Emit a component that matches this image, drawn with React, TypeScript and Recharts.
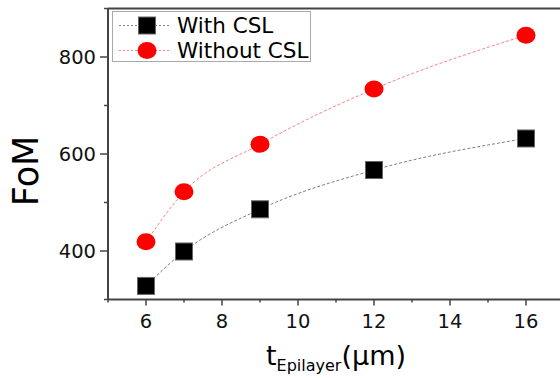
import { LineChart, Line, XAxis, YAxis, ReferenceLine, Legend } from 'recharts';

const thickness = [6, 7, 9, 12, 16];
const fomWithCSL = [328, 399, 486, 567, 632];
const fomWithoutCSL = [419, 522, 620, 734, 845];
const xTicks = [5, 6, 7, 8, 9, 10, 11, 12, 13, 14, 15, 16, 17];
const yTicks = [300, 400, 500, 600, 700, 800, 900];
const xLabelled = [6, 8, 10, 12, 14, 16];
const yLabelled = [400, 600, 800];

const FONT = '"DejaVu Sans", "Liberation Sans", Arial, sans-serif';
const AXIS = '#444';

const data = thickness.map((t, i) => ({
  t,
  withCSL: fomWithCSL[i],
  withoutCSL: fomWithoutCSL[i],
}));

const XTick = ({ x, y, payload }: any) => {
  const major = xLabelled.includes(payload.value);
  return (
    <g>
      <line x1={x} x2={x} y1={y} y2={y + (major ? 6 : 3)} stroke={AXIS} strokeWidth={1.5} />
      {major && (
        <text x={x} y={y + 28} textAnchor="middle" fontSize={19.5} fill="#111" fontFamily={FONT}>
          {payload.value}
        </text>
      )}
    </g>
  );
};

const YTick = ({ x, y, payload }: any) => {
  const major = yLabelled.includes(payload.value);
  return (
    <g>
      <line x1={x - (major ? 8 : 4)} x2={x} y1={y} y2={y} stroke={AXIS} strokeWidth={1.5} />
      {major && (
        <text x={x - 12} y={y + 7} textAnchor="end" fontSize={19.5} fill="#111" fontFamily={FONT}>
          {payload.value}
        </text>
      )}
    </g>
  );
};

const SquareDot = ({ cx, cy, index }: any) => (
  <rect key={`sq-${index}`} x={cx - 8.5} y={cy - 8.5} width={17} height={17} fill="#000" stroke="#666" strokeWidth={1} />
);

const CircleDot = ({ cx, cy, index }: any) => (
  <ellipse key={`ci-${index}`} cx={cx} cy={cy} rx={9.5} ry={8.5} fill="#ff0000" />
);

const LegendBox = () => (
  <div
    style={{
      width: 199,
      height: 51,
      boxSizing: 'border-box',
      border: '1px solid #aaa',
      background: '#fff',
      fontFamily: FONT,
      fontSize: 21.5,
      color: '#000',
      paddingTop: 1,
    }}
  >
    {[
      { name: 'With CSL', line: '#808080', square: true },
      { name: 'Without CSL', line: '#ff8080', square: false },
    ].map(item => (
      <div key={item.name} style={{ display: 'flex', alignItems: 'center', height: 25 }}>
        <svg width={64} height={25} style={{ display: 'block' }}>
          <line x1={6} x2={58} y1={12.5} y2={12.5} stroke={item.line} strokeWidth={1} strokeDasharray="2 2" />
          {item.square ? (
            <rect x={25.5} y={4} width={17} height={17} fill="#000" stroke="#666" />
          ) : (
            <ellipse cx={34} cy={12.5} rx={9.5} ry={8.5} fill="#ff0000" />
          )}
        </svg>
        <span style={{ lineHeight: '25px', whiteSpace: 'nowrap' }}>{item.name}</span>
      </div>
    ))}
  </div>
);

const XLabel = ({ viewBox }: any) => (
  <text
    x={viewBox.x + viewBox.width / 2}
    y={viewBox.y + 65.5}
    textAnchor="middle"
    fontSize={27}
    fill="#000"
    fontFamily={FONT}
  >
    <tspan>t</tspan>
    <tspan fontSize={16} dy={6}>Epilayer</tspan>
    <tspan dy={-6}>(μm)</tspan>
  </text>
);

const YLabel = ({ viewBox }: any) => {
  const x = viewBox.x + 38;
  const y = viewBox.y + viewBox.height / 2 + 17;
  return (
    <text x={x} y={y} transform={`rotate(-90 ${x} ${y})`} textAnchor="middle" fontSize={35} fill="#000" fontFamily={FONT}>
      FoM
    </text>
  );
};

export default function App() {
  return (
    <div style={{ position: 'fixed', left: 0, top: 0, width: 560, height: 378, overflow: 'hidden', background: '#fff' }}>
      <LineChart width={580} height={378} data={data} margin={{ top: 8.5, right: 16, bottom: 48.5, left: 0 }}>
        <XAxis
          dataKey="t"
          type="number"
          domain={[5, 17]}
          ticks={xTicks}
          interval={0}
          height={30}
          tickSize={0}
          tickMargin={0}
          tick={<XTick />}
          axisLine={{ stroke: AXIS, strokeWidth: 2 }}
          label={<XLabel />}
        />
        <YAxis
          type="number"
          domain={[300, 900]}
          ticks={yTicks}
          interval={0}
          width={108}
          tickSize={0}
          tickMargin={0}
          tick={<YTick />}
          axisLine={{ stroke: AXIS, strokeWidth: 2 }}
          label={<YLabel />}
        />
        <ReferenceLine y={900} stroke={AXIS} strokeWidth={2} />
        <Legend
          layout="vertical"
          align="center"
          verticalAlign="middle"
          content={<LegendBox />}
          wrapperStyle={{ left: 112, top: 11, width: 199 }}
        />
        <Line
          dataKey="withCSL"
          name="With CSL"
          type="monotone"
          stroke="#808080"
          strokeWidth={1}
          strokeDasharray="3 2"
          dot={<SquareDot />}
          isAnimationActive={false}
        />
        <Line
          dataKey="withoutCSL"
          name="Without CSL"
          type="monotone"
          stroke="#ff8080"
          strokeWidth={1}
          strokeDasharray="3 2"
          dot={<CircleDot />}
          isAnimationActive={false}
        />
      </LineChart>
    </div>
  );
}
